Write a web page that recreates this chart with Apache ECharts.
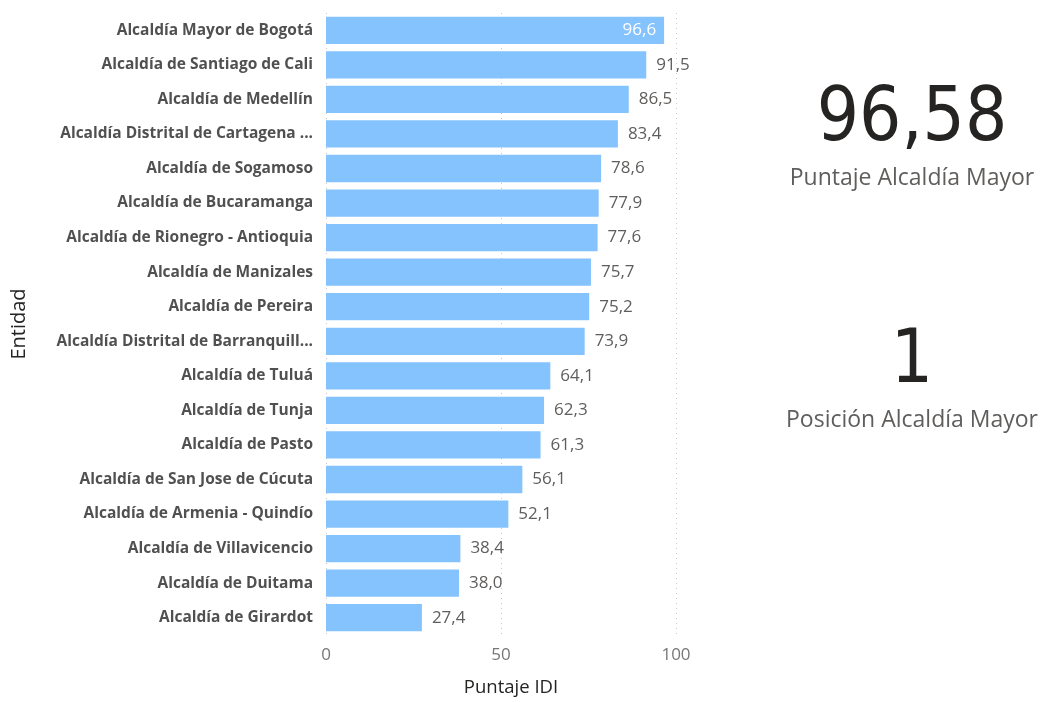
<!DOCTYPE html>
<html>
<head>
<meta charset="utf-8">
<script src="https://cdn.jsdelivr.net/npm/echarts@6/dist/echarts.min.js"></script>
<style>
  html, body { margin: 0; padding: 0; background: #fff; }
  #main { width: 1040px; height: 702px; }
</style>
</head>
<body>
<div id="main"></div>
<script>
// entidades, de arriba hacia abajo
var entidades = [
  'Alcaldía Mayor de Bogotá',
  'Alcaldía de Santiago de Cali',
  'Alcaldía de Medellín',
  'Alcaldía Distrital de Cartagena ...',
  'Alcaldía de Sogamoso',
  'Alcaldía de Bucaramanga',
  'Alcaldía de Rionegro - Antioquia',
  'Alcaldía de Manizales',
  'Alcaldía de Pereira',
  'Alcaldía Distrital de Barranquill...',
  'Alcaldía de Tuluá',
  'Alcaldía de Tunja',
  'Alcaldía de Pasto',
  'Alcaldía de San Jose de Cúcuta',
  'Alcaldía de Armenia - Quindío',
  'Alcaldía de Villavicencio',
  'Alcaldía de Duitama',
  'Alcaldía de Girardot'
];
var puntajes = [96.6, 91.5, 86.5, 83.4, 78.6, 77.9, 77.6, 75.7, 75.2, 73.9, 64.1, 62.3, 61.3, 56.1, 52.1, 38.4, 38.0, 27.4];
var ejeTicks = [0, 50, 100];

// tarjetas
var puntajeAlcaldia = 96.58;
var posicionAlcaldia = 1;

function coma(v, d) {
  return v.toFixed(d).replace('.', ',');
}

var seriesData = [];
for (var i = 0; i < puntajes.length; i++) {
  var item = { value: puntajes[i] };
  if (i === 0) {
    // la barra más larga lleva la etiqueta por dentro
    item.label = { position: 'insideRight', color: '#ffffff', distance: 8 };
  }
  seriesData.push(item);
}

var chart = echarts.init(document.getElementById('main'));

var option = {
  backgroundColor: '#ffffff',
  animation: false,
  grid: {
    left: 326,
    right: 364,
    top: 13,
    bottom: 64,
    containLabel: false
  },
  xAxis: {
    type: 'value',
    min: ejeTicks[0],
    max: ejeTicks[ejeTicks.length - 1],
    interval: 50,
    name: 'Puntaje IDI',
    nameLocation: 'middle',
    nameGap: 43,
    nameTextStyle: { fontFamily: 'Open Sans', fontSize: 18.5, color: '#252423', padding: [0, 0, 0, 20] },
    axisLine: { show: false },
    axisTick: { show: false },
    axisLabel: { fontFamily: 'Open Sans', fontSize: 17, color: '#777777', margin: 12 },
    splitLine: { show: true, lineStyle: { color: '#c8c8c8', type: [1, 4], width: 1 } }
  },
  yAxis: {
    type: 'category',
    inverse: true,
    data: entidades,
    name: 'Entidad',
    nameLocation: 'middle',
    nameGap: 297,
    nameRotate: 90,
    nameTextStyle: { fontFamily: 'Open Sans', fontSize: 20, color: '#252423' },
    axisLine: { show: false },
    axisTick: { show: false },
    axisLabel: { fontFamily: 'Open Sans', fontWeight: 'bold', fontSize: 15.5, color: '#505050', margin: 13 }
  },
  series: [
    {
      type: 'bar',
      data: seriesData,
      barCategoryGap: '21%',
      itemStyle: { color: '#85c3ff' },
      label: {
        show: true,
        position: 'right',
        distance: 10,
        fontFamily: 'Open Sans',
        fontSize: 17,
        color: '#605e5c',
        formatter: function (p) { return coma(p.value, 1); }
      }
    }
  ],
  graphic: [
    {
      type: 'text',
      position: [912, 121],
      style: {
        text: coma(puntajeAlcaldia, 2), x: 0, y: 0, align: 'center', verticalAlign: 'middle',
        font: '74px "DejaVu Sans Condensed", "Open Sans"', fill: '#252423'
      }
    },
    {
      type: 'text',
      position: [912, 178],
      style: {
        text: 'Puntaje Alcaldía Mayor', x: 0, y: 0, align: 'center', verticalAlign: 'middle',
        font: '23px "Open Sans"', fill: '#605e5c'
      }
    },
    {
      type: 'text',
      position: [912, 363],
      style: {
        text: String(posicionAlcaldia), x: 0, y: 0, align: 'center', verticalAlign: 'middle',
        font: '74px "DejaVu Sans Condensed", "Open Sans"', fill: '#252423'
      }
    },
    {
      type: 'text',
      position: [912, 420],
      style: {
        text: 'Posición Alcaldía Mayor', x: 0, y: 0, align: 'center', verticalAlign: 'middle',
        font: '23px "Open Sans"', fill: '#605e5c'
      }
    }
  ]
};

chart.setOption(option);
</script>
</body>
</html>
